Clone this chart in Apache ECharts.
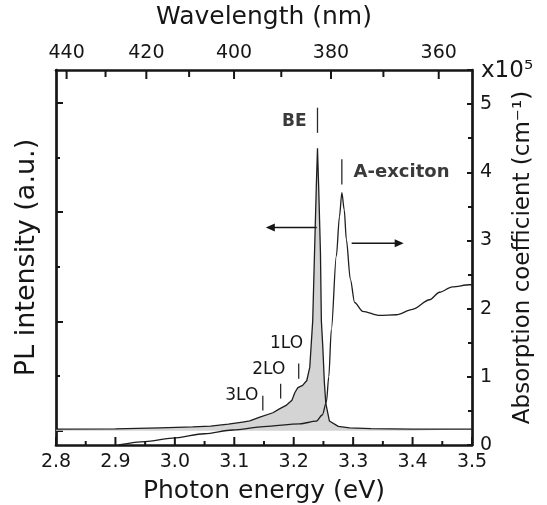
<!DOCTYPE html>
<html>
<head>
<meta charset="utf-8">
<script src="https://cdn.jsdelivr.net/npm/echarts@6/dist/echarts.min.js"></script>
<style>
  html, body { margin: 0; padding: 0; background: #ffffff; }
  #chart { width: 547px; height: 505px; }
</style>
</head>
<body>
<div id="chart"></div>
<script>
// Photon energy in eV <-> wavelength in nm
const HC = 1239.84;

// Tick values
const energyMajor = [2.8, 2.9, 3.0, 3.1, 3.2, 3.3, 3.4, 3.5];
const energyMinor = [2.85, 2.95, 3.05, 3.15, 3.25, 3.35, 3.45];
const wavelengthMajor = [440, 420, 400, 380, 360];
const wavelengthMinor = [430, 410, 390, 370];
const plMajorTicks = [0, 2, 4, 6];
const plMinorTicks = [1, 3, 5];

// Photoluminescence spectrum (arbitrary units)
const plEnergy = [2.80, 2.90, 2.975, 3.03, 3.06, 3.09, 3.114, 3.126, 3.143, 3.165, 3.176, 3.188,
  3.197, 3.202, 3.207, 3.215, 3.222, 3.227, 3.229, 3.232, 3.235, 3.238, 3.240, 3.242, 3.245,
  3.2465, 3.249, 3.2515, 3.254, 3.260, 3.275, 3.294, 3.33, 3.40, 3.50];
const plIntensity = [0.03, 0.035, 0.055, 0.07, 0.085, 0.12, 0.16, 0.18, 0.25, 0.33, 0.40, 0.47,
  0.56, 0.70, 0.79, 0.83, 0.92, 1.16, 1.50, 2.02, 3.25, 4.46, 5.17, 4.46, 3.25,
  2.02, 1.52, 0.90, 0.50, 0.18, 0.08, 0.055, 0.04, 0.03, 0.03];

// Absorption coefficient (x10^5 cm^-1)
const absEnergy = [2.905, 2.95, 2.996, 3.05, 3.097, 3.15, 3.21, 3.238, 3.248, 3.255, 3.259,
  3.2633, 3.2717, 3.277, 3.281, 3.285, 3.2886, 3.2953, 3.3025, 3.316, 3.3445, 3.3726, 3.40,
  3.4286, 3.4454, 3.467, 3.4958, 3.50];
const absCoeff = [0.0, 0.05, 0.10, 0.165, 0.22, 0.27, 0.31, 0.35, 0.44, 0.63, 1.00,
  1.69, 2.77, 3.35, 3.70, 3.45, 3.01, 2.43, 2.09, 1.96, 1.90, 1.91, 1.99,
  2.13, 2.24, 2.32, 2.35, 2.35];

// Peak markers: energy, vertical span, axis ('pl' or 'abs')
const markerNames = ['BE', 'A-exciton', '1LO', '2LO', '3LO'];
const markerEnergy = [3.240, 3.281, 3.2084, 3.178, 3.148];
const markerFrom = [5.45, 3.82, 0.95, 0.59, 0.37];
const markerTo = [5.91, 4.19, 1.23, 0.86, 0.64];
const markerAxis = ['pl', 'abs', 'pl', 'pl', 'pl'];
// Label anchor for each marker: energy, value, alignment
const labelEnergy = [3.2218, 3.3008, 3.188, 3.158, 3.1126];
const labelValue = [5.65, 4.00, 1.60, 1.12, 0.64];
const labelAlign = ['right', 'left', 'center', 'center', 'center'];
const labelBold = [true, true, false, false, false];
const labelSize = [17, 18, 17, 17, 17];

// Arrows showing which axis each curve belongs to
const arrowAxis = ['pl', 'abs'];
const arrowFrom = [3.2387, 3.2975];
const arrowTo = [3.153, 3.385];
const arrowValue = [3.72, 2.96];

const FONT = 'DejaVu Sans';
const INK = '#161616';

const chart = echarts.init(document.getElementById('chart'), null, { renderer: 'canvas' });

const frame = () => ({ show: true, onZero: false, lineStyle: { color: INK, width: 2.7 } });
const hidden = () => ({ show: false, onZero: false });
const tick = () => ({ color: INK, width: 2 });
const noSplit = { show: false };

const option = {
  animation: false,
  backgroundColor: '#ffffff',
  grid: { left: 56, right: 75, top: 70, bottom: 60, outerBoundsMode: 'none', containLabel: false },
  xAxis: [
    {
      type: 'value', position: 'bottom', min: 2.8, max: 3.5, interval: 0.1,
      axisLine: frame(),
      axisTick: { show: false }, minorTick: { show: false },
      splitLine: noSplit, minorSplitLine: noSplit,
      axisLabel: { fontSize: 19, fontFamily: FONT, color: INK, margin: 8,
        showMinLabel: true, showMaxLabel: true, formatter: v => v.toFixed(1) },
      name: 'Photon energy (eV)', nameLocation: 'middle', nameGap: 34,
      nameTextStyle: { fontSize: 25, fontFamily: FONT, color: INK }
    },
    {
      type: 'value', position: 'top', min: 2.8, max: 3.5,
      axisLine: frame(),
      axisTick: { show: false },
      axisLabel: { fontSize: 19, fontFamily: FONT, color: INK, margin: 7,
        customValues: wavelengthMajor.map(nm => HC / nm),
        formatter: v => String(Math.round(HC / v)) },
      splitLine: noSplit,
      name: 'Wavelength (nm)', nameLocation: 'middle', nameGap: 40,
      nameTextStyle: { fontSize: 25, fontFamily: FONT, color: INK }
    }
  ],
  yAxis: [
    {
      type: 'value', position: 'left', min: -0.26, max: 6.6,
      axisLine: frame(),
      axisTick: { show: true, inside: true, length: 7, lineStyle: tick(), customValues: plMajorTicks },
      axisLabel: { show: false },
      splitLine: noSplit,
      name: 'PL intensity (a.u.)', nameLocation: 'middle', nameGap: 16,
      nameTextStyle: { fontSize: 27, fontFamily: FONT, color: INK }
    },
    {
      type: 'value', position: 'right', min: 0, max: 5.5, interval: 1,
      axisLine: frame(),
      axisTick: { show: true, inside: true, length: 5, lineStyle: tick() },
      minorTick: { show: true, splitNumber: 2, length: 4, lineStyle: tick() },
      splitLine: noSplit, minorSplitLine: noSplit,
      axisLabel: { fontSize: 19, fontFamily: FONT, color: INK, margin: 8, showMaxLabel: false },
      name: 'Absorption coefficient (cm⁻¹)', nameLocation: 'middle', nameGap: 40,
      nameTextStyle: { fontSize: 23, fontFamily: FONT, color: INK }
    },
    {
      type: 'value', position: 'left', min: -0.26, max: 6.6,
      axisLine: hidden(),
      axisTick: { show: true, inside: true, length: 4, lineStyle: tick(), customValues: plMinorTicks },
      axisLabel: { show: false },
      splitLine: noSplit
    }
  ],
  series: [
    {
      name: 'PL', type: 'line', xAxisIndex: 0, yAxisIndex: 0,
      data: plEnergy.map((e, i) => [e, plIntensity[i]]),
      showSymbol: false, smooth: false, z: 2,
      lineStyle: { color: '#1e1e1e', width: 1.3 },
      areaStyle: { color: '#d4d4d4', opacity: 1, origin: 0 }
    },
    {
      name: 'Absorption', type: 'line', xAxisIndex: 0, yAxisIndex: 1,
      data: absEnergy.map((e, i) => [e, absCoeff[i]]),
      showSymbol: false, smooth: 0.3, smoothMonotone: 'x', z: 3,
      lineStyle: { color: '#1e1e1e', width: 1.3 }
    }
  ]
};

chart.setOption(option);

// Annotations placed in data coordinates
function toPx(axis, e, v) {
  return chart.convertToPixel({ xAxisIndex: 0, yAxisIndex: axis === 'pl' ? 0 : 1 }, [e, v]);
}

const graphics = [];

// Inward ticks on the bottom (energy) and top (wavelength) frame lines
const yBottom = toPx('abs', 2.8, 0)[1];
const yTop = toPx('abs', 2.8, 5.5)[1];
function addTick(energy, yEdge, len) {
  const x = toPx('abs', energy, 0)[0];
  graphics.push({
    type: 'rect', zlevel: 1, z: 100, silent: true,
    shape: { x: x - 1, y: Math.min(yEdge, yEdge + len), width: 2, height: Math.abs(len) },
    style: { fill: INK }
  });
}
energyMajor.forEach(e => addTick(e, yBottom, -8));
energyMinor.forEach(e => addTick(e, yBottom, -4));
wavelengthMajor.forEach(nm => addTick(HC / nm, yTop, 9));
wavelengthMinor.forEach(nm => addTick(HC / nm, yTop, 7));

markerNames.forEach((name, i) => {
  const a = toPx(markerAxis[i], markerEnergy[i], markerFrom[i]);
  const b = toPx(markerAxis[i], markerEnergy[i], markerTo[i]);
  graphics.push({
    type: 'line', shape: { x1: a[0], y1: a[1], x2: b[0], y2: b[1] },
    style: { stroke: '#2a2a2a', lineWidth: 1.3 }, z: 10
  });
  const p = toPx(markerAxis[i], labelEnergy[i], labelValue[i]);
  graphics.push({
    type: 'text', x: p[0], y: p[1], z: 10,
    style: {
      text: name, fill: labelBold[i] ? '#3a3a3a' : INK,
      font: (labelBold[i] ? 'bold ' : '') + labelSize[i] + 'px "' + FONT + '"',
      align: labelAlign[i], verticalAlign: 'middle'
    }
  });
});

arrowAxis.forEach((axis, i) => {
  const a = toPx(axis, arrowFrom[i], arrowValue[i]);
  const b = toPx(axis, arrowTo[i], arrowValue[i]);
  const dir = b[0] > a[0] ? 1 : -1;
  graphics.push({
    type: 'line', shape: { x1: a[0], y1: a[1], x2: b[0] - dir * 6, y2: b[1] },
    style: { stroke: INK, lineWidth: 1.4 }, z: 10
  });
  graphics.push({
    type: 'polygon', z: 10,
    shape: { points: [[b[0], b[1]], [b[0] - dir * 9, b[1] - 4], [b[0] - dir * 9, b[1] + 4]] },
    style: { fill: INK }
  });
});

// Scale factor of the absorption axis
const topRight = toPx('abs', 3.5, 5.5);
graphics.push({
  type: 'text', x: topRight[0] + 9, y: topRight[1] + 1, z: 10,
  style: { text: 'x10⁵', fill: INK, font: '23px "' + FONT + '"', align: 'left', verticalAlign: 'middle' }
});

chart.setOption({ graphic: graphics });
</script>
</body>
</html>
